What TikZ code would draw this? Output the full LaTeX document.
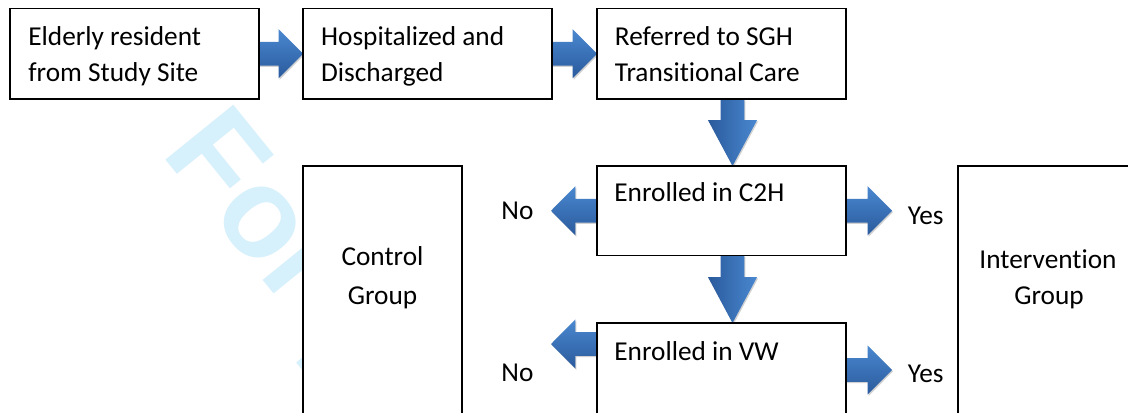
\documentclass[tikz,border=0pt]{standalone}
\usepackage{fontspec}
\setmainfont{Carlito}[Ligatures=NoCommon]
\newfontfamily\wmfont{Liberation Sans}
\usetikzlibrary{calc,shadows}

\definecolor{blueL}{RGB}{74,136,208}
\definecolor{blueD}{RGB}{42,90,156}
\definecolor{wmcyan}{RGB}{214,240,252}

% block arrow dimensions
\def\arrShaft{5.9pt}
\def\arrHead{12.3pt}
\def\arrHL{12.2pt}
\def\arrVL{23pt}

\tikzset{
  box/.style={draw=black, fill=white, line width=0.9pt, anchor=north west, inner sep=0pt, outer sep=0pt},
  lbl/.style={anchor=base west, inner sep=0pt, font=\fontsize{13.65pt}{18.35pt}\selectfont},
  clbl/.style={anchor=base, inner sep=0pt, font=\fontsize{13.65pt}{18.35pt}\selectfont},
  ashadow/.style={drop shadow={shadow xshift=0.5pt, shadow yshift=-0.7pt, opacity=0.18, fill=black}},
  harrow/.style={top color=blueL, bottom color=blueD, draw=none, ashadow},
  varrow/.style={left color=blueD, right color=blueL, draw=none, ashadow},
  wmark/.style={text=wmcyan, inner sep=0pt, anchor=base west,
    font=\wmfont\bfseries\fontsize{63.5pt}{70pt}\selectfont}
}

% block arrows from a tail point to a tip point
\newcommand{\arrowRight}[2]{%
  \path[harrow] let \p1=(#1), \p2=(#2) in
    (\x1,\y1+\arrShaft) -- (\x2-\arrHL,\y1+\arrShaft) -- (\x2-\arrHL,\y1+\arrHead) -- (\x2,\y1)
    -- (\x2-\arrHL,\y1-\arrHead) -- (\x2-\arrHL,\y1-\arrShaft) -- (\x1,\y1-\arrShaft) -- cycle;}
\newcommand{\arrowLeft}[2]{%
  \path[harrow] let \p1=(#1), \p2=(#2) in
    (\x1,\y1+\arrShaft) -- (\x2+\arrHL,\y1+\arrShaft) -- (\x2+\arrHL,\y1+\arrHead) -- (\x2,\y1)
    -- (\x2+\arrHL,\y1-\arrHead) -- (\x2+\arrHL,\y1-\arrShaft) -- (\x1,\y1-\arrShaft) -- cycle;}
\newcommand{\arrowDown}[2]{%
  \path[varrow] let \p1=(#1), \p2=(#2) in
    (\x1-\arrShaft,\y1) -- (\x1-\arrShaft,\y2+\arrVL) -- (\x1-\arrHead,\y2+\arrVL) -- (\x1,\y2)
    -- (\x1+\arrHead,\y2+\arrVL) -- (\x1+\arrShaft,\y2+\arrVL) -- (\x1+\arrShaft,\y1) -- cycle;}

\begin{document}
\begin{tikzpicture}[x=0.5pt, y=-0.5pt]
\useasboundingbox (0,0) rectangle (1128,412);
\clip (0,0) rectangle (1128,412);
\fill[white] (0,0) rectangle (1128,412);

% watermark, under the white boxes
\node[wmark, rotate=-51] (wm) at (160,153) {For peer};

% boxes
\node[box, minimum width=124.5pt, minimum height=45.25pt] (b1) at (10,8.5) {};
\node[box, minimum width=124.5pt, minimum height=45.25pt] (b2) at (303,8.5) {};
\node[box, minimum width=124.5pt, minimum height=45.25pt] (b3) at (597,8.5) {};
\node[box, minimum width=124.5pt, minimum height=44.75pt] (c2h) at (597,166) {};
\node[box, minimum width=124.5pt, minimum height=60pt] (vw) at (597,323) {};
\node[box, minimum width=79.35pt, minimum height=150pt] (ctrl) at (303.3,166) {};
\node[box, minimum width=100pt, minimum height=150pt] (intv) at (958,166) {};

% arrow end points
\coordinate (d1) at ($(b3.south)+(11,0)$);
\coordinate (d2) at ($(c2h.south)+(11,0)$);
\coordinate (cNo) at ($(c2h.west)+(-46,0)$);
\coordinate (cYes) at ($(c2h.east)+(46,0)$);
\coordinate (vL) at ($(vw.north west)+(0,21)$);
\coordinate (vNo) at ($(vL)+(-46,0)$);
\coordinate (vR) at ($(vw.north east)+(0,47)$);
\coordinate (vYes) at ($(vR)+(46,0)$);

% arrows
\arrowRight{b1.east}{b2.west}
\arrowRight{b2.east}{b3.west}
\arrowDown{d1}{c2h.north}
\arrowDown{d2}{vw.north}
\arrowLeft{c2h.west}{cNo}
\arrowRight{c2h.east}{cYes}
\arrowLeft{vL}{vNo}
\arrowRight{vR}{vYes}

% redraw the borders over the arrow tails
\foreach \b in {b1,b2,b3,c2h,vw}
  \draw[line width=0.9pt] (\b.north west) rectangle (\b.south east);

% texts
\node[lbl] (t1a) at (28,45) {Elderly resident};
\node[lbl] (t1b) at (28,81.7) {from Study Site};
\node[lbl] (t2a) at (320.7,45) {Hospitalized and};
\node[lbl] (t2b) at (320.7,81.7) {Discharged};
\node[lbl] (t3a) at (614.5,45) {Referred to SGH};
\node[lbl] (t3b) at (614.5,81.7) {Transitional Care};
\node[lbl] (t4) at (614,201.7) {Enrolled in C2H};
\node[lbl] (t5) at (614,360) {Enrolled in VW};
\node[lbl] (no1) at (501,219) {No};
\node[lbl] (no2) at (501,381.7) {No};
\node[lbl] (yes1) at (907.5,224) {Yes};
\node[lbl] (yes2) at (907.5,382) {Yes};
\node[clbl] (t6a) at (382.5,265) {Control};
\node[clbl] (t6b) at (382.5,304) {Group};
\node[clbl] (t7a) at (1048,268.3) {Intervention};
\node[clbl] (t7b) at (1049,304) {Group};
\end{tikzpicture}
\end{document}
